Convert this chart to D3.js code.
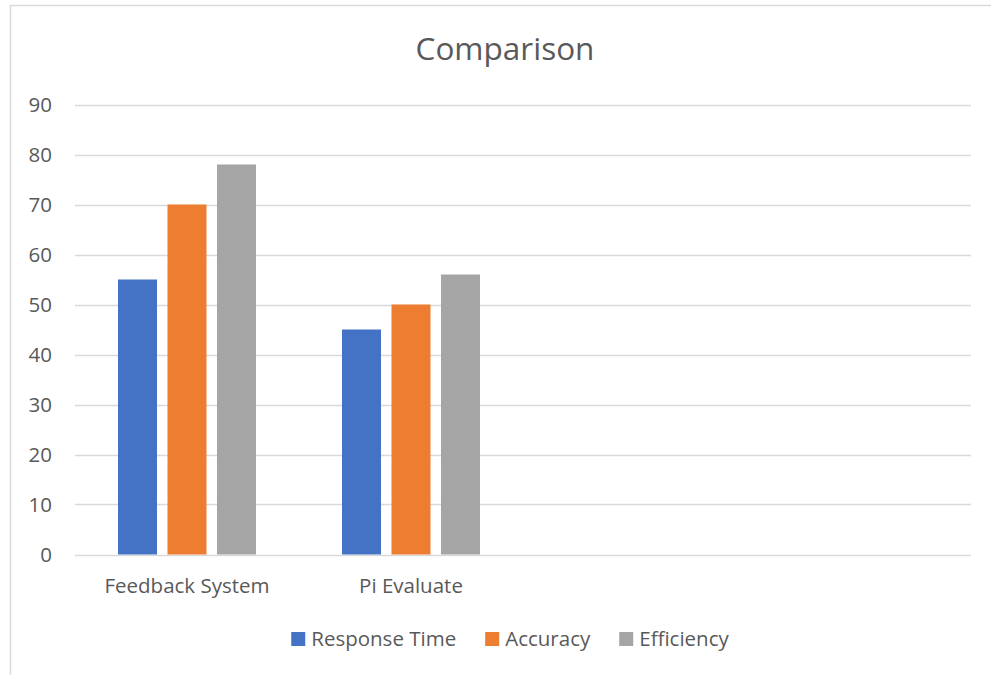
<!DOCTYPE html>
<html>
<head>
<meta charset="utf-8">
<script src="https://cdn.jsdelivr.net/npm/d3@7"></script>
<style>
  html, body { margin: 0; padding: 0; background: #fff; }
  svg { display: block; }
  text { font-family: "Open Sans", "Noto Sans", sans-serif; fill: #595959; }
</style>
</head>
<body>
<svg id="chart" width="991" height="675"></svg>
<script>
const title = "Comparison";
const categories = ["Feedback System", "Pi Evaluate", "", " "];
const seriesNames = ["Response Time", "Accuracy", "Efficiency"];
const responseTime = [55, 45, null, null];
const accuracy = [70, 50, null, null];
const efficiency = [78, 56, null, null];
const colors = ["#4472C4", "#ED7D31", "#A5A5A5"];
const yTicks = [0, 10, 20, 30, 40, 50, 60, 70, 80, 90];

const seriesValues = [responseTime, accuracy, efficiency];

const svg = d3.select("#chart");
const W = 991, H = 675;
const plot = { left: 75, right: 971, top: 104.5, bottom: 554.5 };

// chart border (cropped on right/bottom)
svg.append("rect")
  .attr("x", 10.5).attr("y", 5.5)
  .attr("width", 1100).attr("height", 700)
  .attr("fill", "none").attr("stroke", "#d9d9d9").attr("stroke-width", 1.5);

const y = d3.scaleLinear().domain([0, 90]).range([plot.bottom, plot.top]);
const x0 = d3.scaleBand().domain(categories).range([plot.left, plot.right]).padding(0);
const off = x0.bandwidth() * 0.192;
const x1 = d3.scaleBand().domain(seriesNames).range([off, x0.bandwidth() - off]).paddingInner(0.212).paddingOuter(0);

// gridlines
svg.append("g").selectAll("line").data(yTicks).join("line")
  .attr("x1", plot.left).attr("x2", plot.right)
  .attr("y1", d => Math.round(y(d)) + 0.5).attr("y2", d => Math.round(y(d)) + 0.5)
  .attr("stroke", "#d9d9d9").attr("stroke-width", 1.3);

// y axis labels
const yAxis = d3.axisLeft(y).tickValues(yTicks).tickSize(0).tickPadding(23);
const gy = svg.append("g").attr("transform", `translate(${plot.left},0)`).call(yAxis);
gy.select(".domain").remove();
gy.selectAll("text").style("font-size", "20.5px").style("font-family", '"Open Sans", sans-serif').attr("fill", "#595959");

// bars
const rows = categories.map((c, i) => ({ cat: c, vals: seriesNames.map((s, j) => ({ s, v: seriesValues[j][i], c: colors[j] })) }));
const groups = svg.append("g").selectAll("g").data(rows).join("g")
  .attr("transform", d => `translate(${x0(d.cat)},0)`);
groups.selectAll("rect").data(d => d.vals.filter(v => v.v != null)).join("rect")
  .attr("x", d => x1(d.s)).attr("width", x1.bandwidth())
  .attr("y", d => y(d.v)).attr("height", d => y(0) - y(d.v))
  .attr("fill", d => d.c);

// x axis labels
const xAxis = d3.axisBottom(x0).tickSize(0).tickPadding(0);
const gx = svg.append("g").attr("transform", `translate(0,${plot.bottom})`).call(xAxis);
gx.select(".domain").remove();
gx.selectAll("text").attr("dy", null).attr("y", 38.5)
  .style("font-size", "20.5px").style("font-family", '"Open Sans", sans-serif').attr("fill", "#595959");

// title
svg.append("text").attr("x", 505).attr("y", 59.5).attr("text-anchor", "middle")
  .style("font-size", "31.5px").text(title);

// legend
const lg = svg.append("g");
const items = lg.selectAll("g").data(seriesNames).join("g");
items.append("rect").attr("width", 14).attr("height", 14).attr("y", 632).attr("fill", (d, i) => colors[i]);
items.append("text").attr("x", 20).attr("y", 646).style("font-size", "20.5px").text(d => d);
let cx = 0;
const widths = [];
items.each(function(d) { widths.push(20 + this.querySelector("text").getComputedTextLength()); });
const gap = 29;
const total = d3.sum(widths) + gap * (widths.length - 1);
let start = 510 - total / 2;
items.attr("transform", (d, i) => { const t = `translate(${start},0)`; start += widths[i] + gap; return t; });
</script>
</body>
</html>
